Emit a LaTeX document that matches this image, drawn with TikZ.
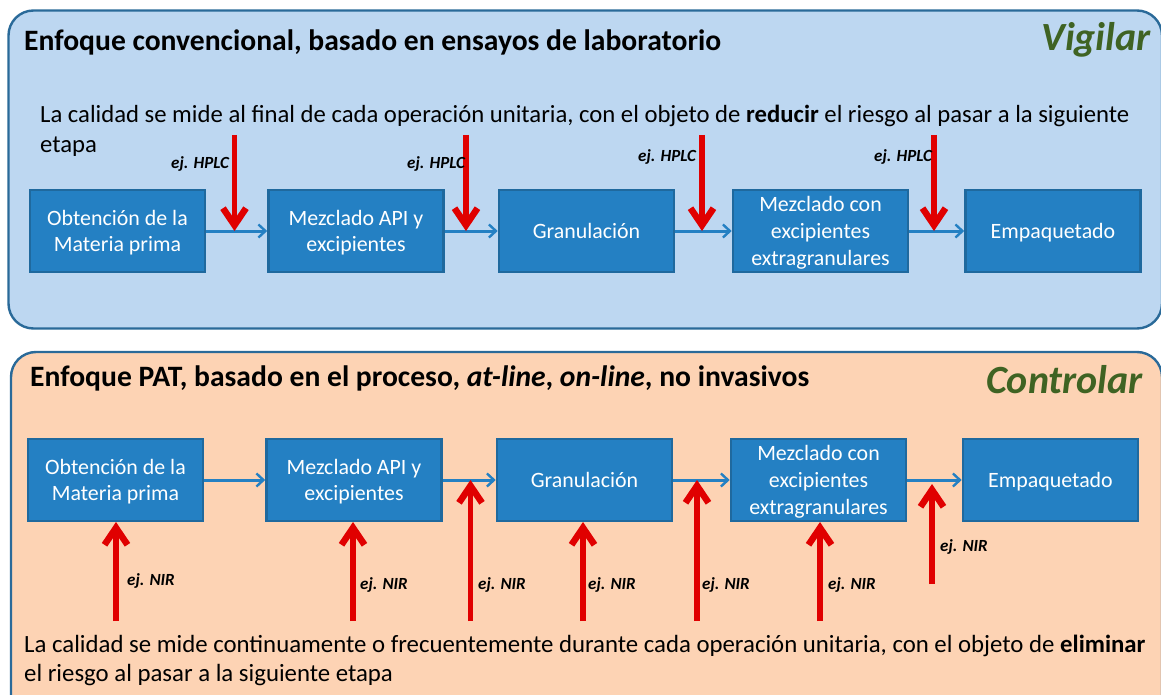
\documentclass[tikz,border=0pt]{standalone}
\usepackage{fontspec}
\setmainfont{Carlito}
\usetikzlibrary{arrows.meta}
\definecolor{panelblue}{HTML}{BDD7F1}
\definecolor{panelorange}{HTML}{FDD3B4}
\definecolor{panelline}{HTML}{2A6A99}
\definecolor{boxfill}{HTML}{2480C3}
\definecolor{boxline}{HTML}{1F699E}
\definecolor{flowline}{HTML}{2480C3}
\definecolor{redarrow}{HTML}{E00000}
\definecolor{wordgreen}{HTML}{3F6323}
\tikzset{
  x=1pt,y=-1pt,
  panel/.style={draw=panelline,line width=2.4pt,rounded corners=25pt},
  stepbox/.style={draw=boxline,fill=boxfill,line width=2.6pt,text=white,minimum width=175pt,minimum height=82pt,inner sep=0pt,align=center,font=\fontsize{21.9}{26.7}\selectfont},
  oneline/.style={stepbox,text height=15pt,text depth=0pt},
  twolines/.style={stepbox,text height=41.4pt,text depth=0pt},
  threelines/.style={stepbox,text height=68pt,text depth=0pt},
  flow/.style={draw=flowline,line width=3pt,-{Straight Barb[length=7pt,width=13pt,line width=2.4pt]}},
  probe/.style={draw=redarrow,line width=5.5pt,-{Straight Barb[length=17pt,width=23pt,line width=6.5pt]}},
  heading/.style={anchor=base west,inner sep=0pt,font=\fontsize{29.6}{34}\selectfont\bfseries},
  bodytext/.style={anchor=base west,inner sep=0pt,font=\fontsize{24.7}{30}\selectfont},
  lowertext/.style={bodytext,font=\fontsize{24.8}{30}\selectfont},
  verb/.style={anchor=base east,inner sep=0pt,text=wordgreen,font=\fontsize{40}{46}\selectfont\bfseries\itshape},
  tag/.style={inner sep=0pt,anchor=base west,font=\fontsize{17}{20}\selectfont\bfseries\itshape},
}
\begin{document}
\begin{tikzpicture}
\useasboundingbox (0,0) rectangle (1161,695);
\fill[white] (0,0) rectangle (1161,695);
% panels
\path[panel,fill=panelblue] (8.5,10.5) rectangle (1162,328.5);
\begin{scope}
\clip (0,0) rectangle (1161,695);
\path[panel,fill=panelorange] (11,352) rectangle (1162,720);
\end{scope}
% top panel texts
\node[heading] (t1) at (24,51) {Enfoque convencional, basado en ensayos de laboratorio};
\node[verb] (v1) at (1151,51) {Vigilar};
\node[bodytext] (b1a) at (40,123) {La calidad se mide al final de cada operación unitaria, con el objeto de \textbf{reducir} el riesgo al pasar a la siguiente};
\node[bodytext] (b1b) at (40,153) {etapa};
% top boxes
\node[twolines] (a1) at (117.5,231) {Obtención de la\\Materia prima};
\node[twolines] (a2) at (356,231) {Mezclado API y\\excipientes};
\node[oneline] (a3) at (586.5,231) {Granulación};
\node[threelines] (a4) at (820.5,231) {Mezclado con\\excipientes\\extragranulares};
\node[oneline] (a5) at (1053,231) {Empaquetado};
\foreach \p/\q in {a1/a2,a2/a3,a3/a4,a4/a5} \draw[flow] (\p) -- (\q);
\foreach \n/\x/\y in {s1/234.5/135,s2/466/135,s3/702/135,s4/934/135}
  \coordinate (\n) at (\x,\y);
\foreach \n/\x in {e1/234.5,e2/466,e3/702,e4/934}
  \coordinate (\n) at (\x,231);
\foreach \i in {1,2,3,4} \draw[probe] (s\i) -- (e\i);
\node[tag] (h1) at (171,168) {ej. HPLC};
\node[tag] (h2) at (407,168) {ej. HPLC};
\node[tag] (h3) at (638,162) {ej. HPLC};
\node[tag] (h4) at (874,162) {ej. HPLC};
% bottom panel texts
\node[heading] (t2) at (30,386) {Enfoque PAT, basado en el proceso, \textit{at-line}, \textit{on-line}, no invasivos};
\node[verb] (v2) at (1143,393) {Controlar};
\node[lowertext] (b2a) at (24,652) {La calidad se mide continuamente o frecuentemente durante cada operación unitaria, con el objeto de \textbf{eliminar}};
\node[lowertext] (b2b) at (24,681.5) {el riesgo al pasar a la siguiente etapa};
% bottom boxes
\node[twolines] (c1) at (115.5,480) {Obtención de la\\Materia prima};
\node[twolines] (c2) at (354,480) {Mezclado API y\\excipientes};
\node[oneline] (c3) at (584.5,480) {Granulación};
\node[threelines] (c4) at (818.5,480) {Mezclado con\\excipientes\\extragranulares};
\node[oneline] (c5) at (1050.5,480) {Empaquetado};
\foreach \p/\q in {c1/c2,c2/c3,c3/c4,c4/c5} \draw[flow] (\p) -- (\q);
\foreach \n/\x/\y in {u1/116/621,u2/353/621,u3/470.5/621,u4/583/621,u5/697/621,u6/820/621,u7/932/584}
  \coordinate (\n) at (\x,\y);
\foreach \n/\x/\y in {w1/116/522,w2/353/522,w3/470.5/480,w4/583/522,w5/697/480,w6/820/522,w7/932/484}
  \coordinate (\n) at (\x,\y);
\foreach \i in {1,...,7} \draw[probe] (u\i) -- (w\i);
\node[tag] (n1) at (127,585) {ej. NIR};
\node[tag] (n2) at (360,589) {ej. NIR};
\node[tag] (n3) at (478,589) {ej. NIR};
\node[tag] (n4) at (588,589) {ej. NIR};
\node[tag] (n5) at (702,589) {ej. NIR};
\node[tag] (n6) at (828,589) {ej. NIR};
\node[tag] (n7) at (940,551) {ej. NIR};
\end{tikzpicture}
\end{document}
